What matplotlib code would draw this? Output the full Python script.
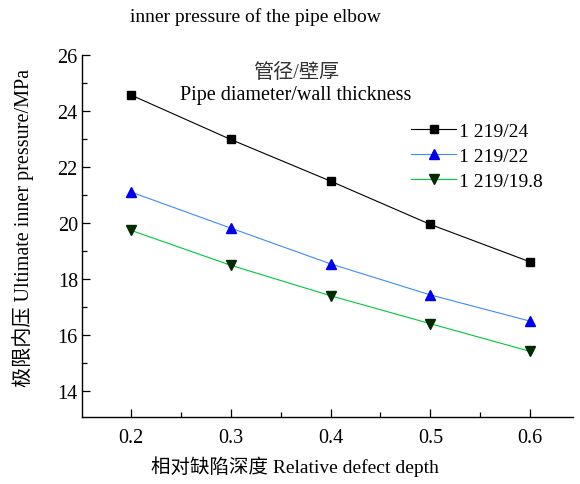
import matplotlib
matplotlib.use('Agg')
import matplotlib.pyplot as plt
import numpy as np

plt.rcParams['font.family'] = ['Liberation Serif', 'Noto Sans CJK SC']

depth = [0.2, 0.3, 0.4, 0.5, 0.6]
p_24 = [24.57, 22.98, 21.49, 19.94, 18.6]
p_22 = [21.1, 19.81, 18.53, 17.42, 16.48]
p_198 = [19.73, 18.48, 17.39, 16.39, 15.4]
labels = ['1 219/24', '1 219/22', '1 219/19.8']

fig = plt.figure(figsize=(5.8, 4.85), dpi=100)
ax = fig.add_axes([0.1414, 0.138, 0.8466, 0.7465])

ax.plot(depth, p_24, color='black', lw=0.8, marker='s', ms=6,
        mfc='black', mec='black', label=labels[0])
ax.plot(depth, p_22, color='#3d8bff', lw=0.8, marker='^', ms=7,
        mfc='#0000ee', mec='#0000ee', label=labels[1])
ax.plot(depth, p_198, color='#00c83c', lw=0.8, marker='v', ms=7,
        mfc='#002a00', mec='#002a00', label=labels[2])

ax.set_xlim(0.151, 0.643)
ax.set_ylim(13.05, 26)
ax.set_xticks([0.2, 0.3, 0.4, 0.5, 0.6])
ax.set_xticks([0.25, 0.35, 0.45, 0.55], minor=True)
ax.set_yticks([14, 16, 18, 20, 22, 24, 26])
ax.set_yticks([15, 17, 19, 21, 23, 25], minor=True)
ax.tick_params(direction='in', which='major', length=6, width=0.9, labelsize=14.5)
ax.tick_params(direction='in', which='minor', length=3.5, width=0.9)
ax.tick_params(axis='x', pad=8)
ax.tick_params(axis='y', pad=3)
for s in ['top', 'right']:
    ax.spines[s].set_visible(False)
for s in ['left', 'bottom']:
    ax.spines[s].set_linewidth(1.0)

ax.set_ylabel('极限内压 Ultimate inner pressure/MPa', fontsize=14.5, va='center')
ax.yaxis.set_label_coords(-0.12, 0.525)
fig.text(0.509, 0.024, '相对缺陷深度 Relative defect depth', ha='center', fontsize=14)
fig.text(0.44, 0.965, 'inner pressure of the pipe elbow', ha='center', va='center', fontsize=14)
fig.text(0.51, 0.849, '管径/壁厚', ha='center', va='center', fontsize=14.5, color='#333333')
fig.text(0.509, 0.803, 'Pipe diameter/wall thickness', ha='center', va='center', fontsize=14.5)

ax.legend(loc='upper left', bbox_to_anchor=(0.655, 0.835), frameon=False, fontsize=14,
          handlelength=2.3, handletextpad=0.15, labelspacing=0.38, borderaxespad=0)

fig.savefig('out.png', dpi=100)
